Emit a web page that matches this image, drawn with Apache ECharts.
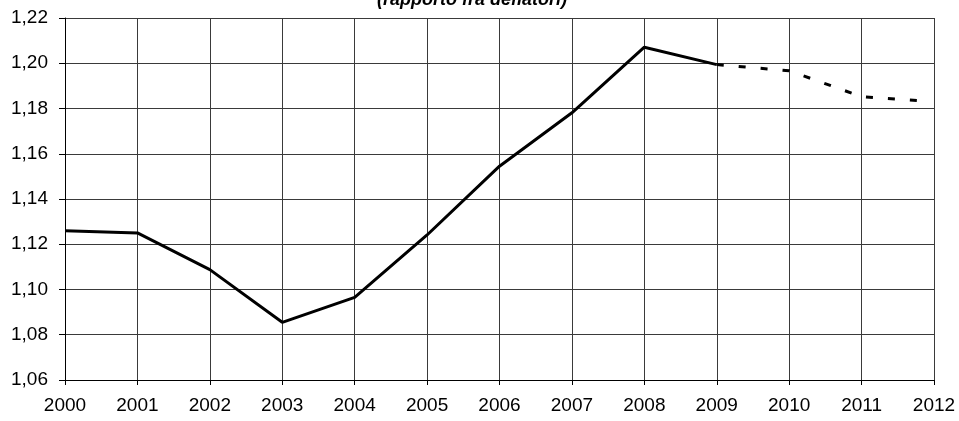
<!DOCTYPE html>
<html>
<head>
<meta charset="utf-8">
<script src="https://cdn.jsdelivr.net/npm/echarts@6/dist/echarts.min.js"></script>
<style>
  html, body { margin: 0; padding: 0; background: #fff; }
  #chart { width: 959px; height: 421px; }
</style>
</head>
<body>
<div id="chart"></div>
<script>
// dati
var years = [2000, 2001, 2002, 2003, 2004, 2005, 2006, 2007, 2008, 2009];
var actual = [1.126, 1.125, 1.1088, 1.0855, 1.0965, 1.1241, 1.1545, 1.1781, 1.2071, 1.1994];
var forecastYears = [2009, 2010, 2011, 2011.8];
var forecast = [1.1994, 1.1967, 1.1852, 1.1835];
var yTicks = [1.06, 1.08, 1.10, 1.12, 1.14, 1.16, 1.18, 1.20, 1.22];

function pairs(xs, ys) {
    return xs.map(function (x, i) { return [x, ys[i]]; });
}

var chart = echarts.init(document.getElementById('chart'));

var font = 'Liberation Sans';

var option = {
    animation: false,
    title: {
        text: '(rapporto fra deflatori)',
        left: 377,
        top: -9,
        padding: 0,
        textStyle: {
            fontFamily: font,
            fontSize: 18,
            fontWeight: 'bold',
            fontStyle: 'italic',
            color: '#000'
        }
    },
    grid: {
        left: 65,
        right: 25,
        top: 18,
        bottom: 41
    },
    xAxis: {
        type: 'value',
        min: 2000,
        max: 2012,
        interval: 1,
        axisLine: { lineStyle: { color: '#000', width: 1 } },
        axisTick: { show: true, length: 5, lineStyle: { color: '#000' } },
        axisLabel: {
            margin: 16,
            color: '#000',
            fontFamily: font,
            fontSize: 19,
            formatter: function (v) { return String(v); }
        },
        splitLine: { show: true, lineStyle: { color: '#3a3a3a', width: 1 } }
    },
    yAxis: {
        type: 'value',
        min: yTicks[0],
        max: yTicks[yTicks.length - 1],
        interval: 0.02,
        axisLine: { show: true, lineStyle: { color: '#000', width: 1 } },
        axisTick: { show: true, length: 6, lineStyle: { color: '#000' } },
        axisLabel: {
            margin: 17,
            color: '#000',
            fontFamily: font,
            fontSize: 19,
            formatter: function (v) { return v.toFixed(2).replace('.', ','); }
        },
        splitLine: { show: true, lineStyle: { color: '#3a3a3a', width: 1 } }
    },
    series: [
        {
            type: 'line',
            data: pairs(years, actual),
            symbol: 'none',
            lineStyle: { color: '#000', width: 3 },
            z: 3
        },
        {
            type: 'line',
            data: pairs(forecastYears, forecast),
            symbol: 'none',
            lineStyle: { color: '#000', width: 3, type: [7, 15], cap: 'butt' },
            z: 3
        }
    ]
};

chart.setOption(option);
</script>
</body>
</html>
